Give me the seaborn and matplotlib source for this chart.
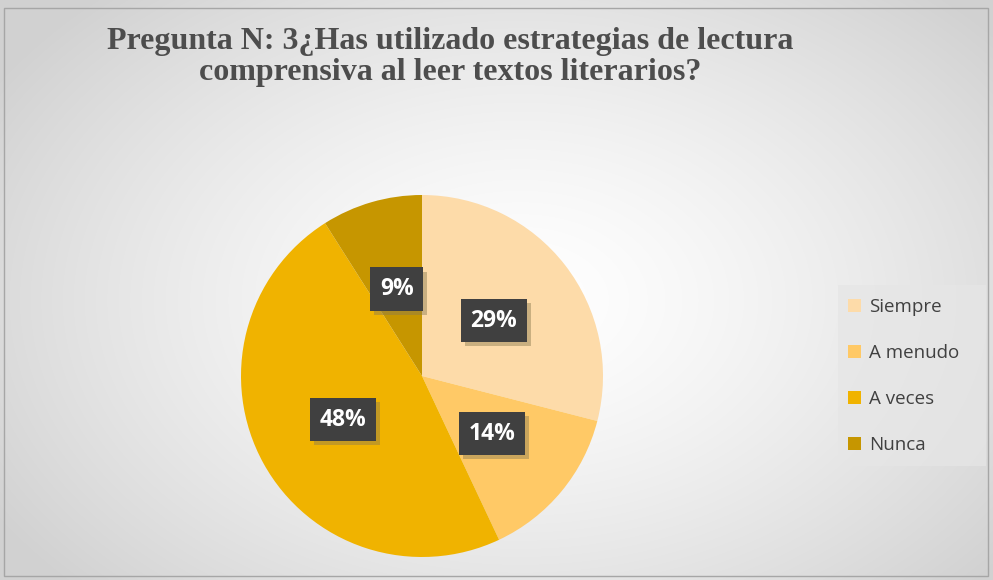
import numpy as np
import seaborn as sns
import matplotlib.pyplot as plt
import matplotlib.patheffects as pe
from matplotlib.patches import Rectangle

# Data
categories = ["Siempre", "A menudo", "A veces", "Nunca"]
values = [29, 14, 48, 9]
colors = ["#FDDBA9", "#FFC966", "#F0B300", "#C69600"]
title = "Pregunta N: 3¿Has utilizado estrategias de lectura\ncomprensiva al leer textos literarios?"

sns.set_theme(style="white")
palette = sns.color_palette(colors)

W, H = 993, 580
fig = plt.figure(figsize=(W / 100, H / 100), dpi=100)

# radial gradient background
bg = fig.add_axes([0, 0, 1, 1])
yy, xx = np.mgrid[0:H, 0:W]
d = np.sqrt(((xx - 520) / 620.0) ** 2 + ((yy - 300) / 420.0) ** 2)
shade = 1.0 - 0.18 * np.clip(d, 0, 1) ** 1.4
bg.imshow(np.dstack([shade] * 3), extent=[0, W, H, 0], aspect="auto")
bg.add_patch(Rectangle((4, 8), W - 9, H - 12, fill=False, edgecolor="#a6a6a6", lw=1))
bg.set_xlim(0, W)
bg.set_ylim(H, 0)
bg.axis("off")

# pie axes
cx, cy, r = 422, 376, 181
ax = fig.add_axes([(cx - r) / W, (H - cy - r) / H, 2 * r / W, 2 * r / H])
wedges, texts, autotexts = ax.pie(
    values, colors=palette, startangle=90, counterclock=False,
    autopct="%1.0f%%", pctdistance=0.5, radius=1,
    wedgeprops=dict(linewidth=0),
    textprops=dict(color="white", fontsize=16.5, fontweight="bold", family="Open Sans"),
)
for t in autotexts:
    t.set_bbox(dict(boxstyle="square,pad=0.42", facecolor="#404040", edgecolor="none"))
    t.get_bbox_patch().set_path_effects([
        pe.SimplePatchShadow(offset=(3, -3), shadow_rgbFace="#8a7a50", alpha=0.45),
        pe.Normal()])
ax.set_xlim(-1, 1)
ax.set_ylim(-1, 1)
ax.set_aspect("auto")
ax.axis("off")

# title
fig.text(450 / W, 1 - 57 / H, title, ha="center", va="center",
         fontsize=23, fontweight="bold", family="Liberation Serif",
         color="#4d4d4d", linespacing=1.1)

# legend box
bg.add_patch(Rectangle((838, 285), 148, 181, facecolor="#e6e6e6", edgecolor="none", alpha=0.7))
leg = fig.legend(wedges, categories, loc="center left",
                 bbox_to_anchor=(831 / W, 1 - 376 / H), frameon=False,
                 prop=dict(family="Open Sans", size=13.5), labelcolor="#404040",
                 handlelength=0.7, handleheight=0.7, handletextpad=0.45,
                 labelspacing=1.5)

fig.savefig("out.png", dpi=100)
